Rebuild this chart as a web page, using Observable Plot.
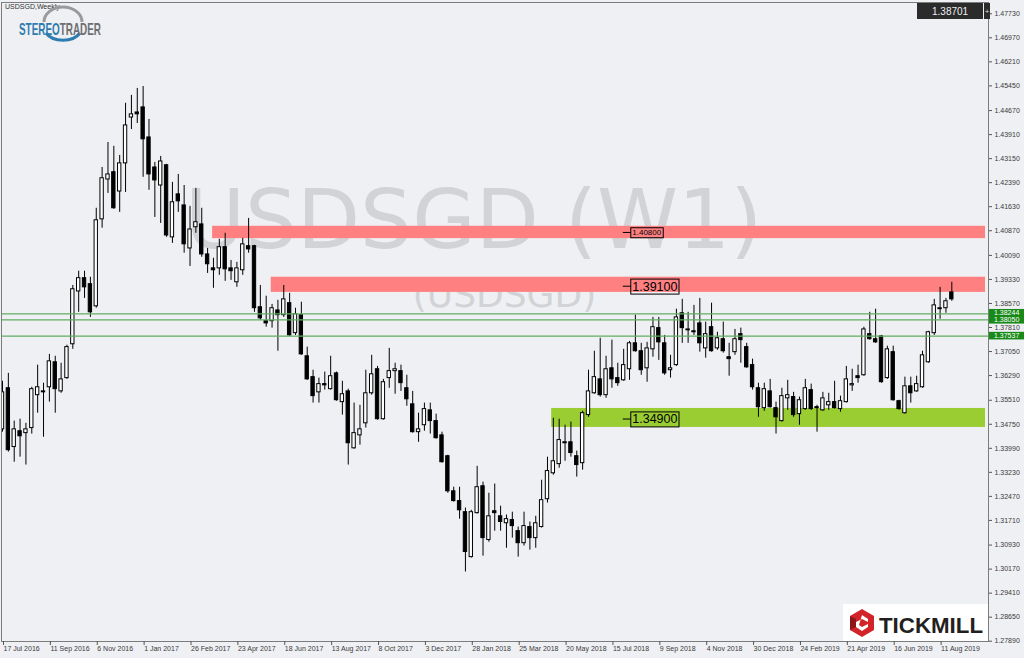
<!DOCTYPE html>
<html><head><meta charset="utf-8">
<script src="https://cdn.jsdelivr.net/npm/d3@7"></script>
<script src="https://cdn.jsdelivr.net/npm/@observablehq/plot@0.6"></script>
<style>
html,body{margin:0;padding:0;background:#eff0f3;}
#chart{width:1024px;height:658px;overflow:hidden;}
</style></head>
<body><div id="chart"></div>
<script>
// ---- data (weekly USDSGD candles, first week starting 17 Jul 2016) ----
const startWeek = "2016-07-17";
const opens = [1.3459,1.3589,1.3403,1.3453,1.3447,1.3463,1.3567,1.3579,1.3592,1.3671,1.3579,1.3621,1.3728,1.3895,1.3937,1.3918,1.3848,1.4123,1.4249,1.4272,1.4211,1.4300,1.4445,1.4461,1.4477,1.4382,1.4287,1.4230,1.4294,1.4066,1.4202,1.4167,1.4031,1.4098,1.4107,1.4012,1.3968,1.3968,1.4035,1.3968,1.3924,1.3962,1.4038,1.4038,1.3845,1.3801,1.3801,1.3835,1.3820,1.3858,1.3763,1.3820,1.3690,1.3624,1.3576,1.3602,1.3586,1.3636,1.3545,1.3579,1.3399,1.3440,1.3478,1.3573,1.3649,1.3491,1.3621,1.3643,1.3643,1.3589,1.3538,1.3450,1.3472,1.3519,1.3485,1.3440,1.3374,1.3263,1.3232,1.3197,1.3055,1.3194,1.3279,1.3109,1.3200,1.3184,1.3162,1.3172,1.3137,1.3099,1.3150,1.3115,1.3150,1.3238,1.3320,1.3349,1.3418,1.3418,1.3374,1.3352,1.3504,1.3573,1.3617,1.3567,1.3652,1.3621,1.3614,1.3649,1.3731,1.3706,1.3652,1.3712,1.3779,1.3731,1.3646,1.3662,1.3826,1.3772,1.3769,1.3794,1.3715,1.3782,1.3715,1.3744,1.3687,1.3703,1.3760,1.3719,1.3662,1.3589,1.3526,1.3579,1.3526,1.3485,1.3557,1.3561,1.3507,1.3523,1.3583,1.3529,1.3519,1.3535,1.3545,1.3523,1.3545,1.3598,1.3627,1.3630,1.3760,1.3744,1.3753,1.3621,1.3703,1.3548,1.3510,1.3595,1.3579,1.3592,1.3671,1.3763,1.3839,1.3842,1.3892];
const highs = [1.3611,1.3636,1.3485,1.3491,1.3478,1.3592,1.3662,1.3605,1.3696,1.3690,1.3668,1.3725,1.3914,1.3959,1.3959,1.3940,1.4158,1.4287,1.4366,1.4354,1.4325,1.4490,1.4515,1.4537,1.4543,1.4439,1.4303,1.4322,1.4297,1.4240,1.4265,1.4230,1.4164,1.4221,1.4158,1.4031,1.4000,1.4060,1.4079,1.3993,1.3987,1.4063,1.4126,1.4041,1.3914,1.3880,1.3854,1.3867,1.3914,1.3889,1.3842,1.3861,1.3719,1.3646,1.3621,1.3640,1.3690,1.3640,1.3611,1.3586,1.3542,1.3535,1.3646,1.3693,1.3658,1.3617,1.3715,1.3668,1.3662,1.3630,1.3579,1.3510,1.3542,1.3542,1.3507,1.3450,1.3377,1.3276,1.3276,1.3210,1.3203,1.3342,1.3292,1.3257,1.3286,1.3216,1.3188,1.3197,1.3150,1.3197,1.3166,1.3184,1.3298,1.3371,1.3494,1.3491,1.3472,1.3482,1.3390,1.3516,1.3646,1.3706,1.3747,1.3690,1.3741,1.3668,1.3712,1.3737,1.3820,1.3731,1.3734,1.3813,1.3813,1.3756,1.3693,1.3839,1.3870,1.3829,1.3851,1.3873,1.3798,1.3858,1.3766,1.3798,1.3731,1.3775,1.3779,1.3731,1.3681,1.3605,1.3605,1.3617,1.3545,1.3589,1.3614,1.3576,1.3561,1.3617,1.3602,1.3535,1.3576,1.3573,1.3611,1.3564,1.3658,1.3649,1.3662,1.3782,1.3829,1.3839,1.3756,1.3722,1.3722,1.3551,1.3624,1.3624,1.3627,1.3706,1.3769,1.3870,1.3908,1.3873,1.3924];
const lows = [1.3450,1.3387,1.3355,1.3371,1.3346,1.3444,1.3510,1.3434,1.3545,1.3510,1.3573,1.3617,1.3712,1.3829,1.3873,1.3813,1.3842,1.4095,1.4205,1.4155,1.4145,1.4208,1.4407,1.4426,1.4256,1.4215,1.4129,1.4110,1.4066,1.4047,1.4145,1.4016,1.3974,1.4079,1.4003,1.3952,1.3905,1.3946,1.3927,1.3930,1.3908,1.3946,1.4016,1.3829,1.3804,1.3782,1.3779,1.3706,1.3813,1.3753,1.3756,1.3693,1.3614,1.3542,1.3542,1.3583,1.3583,1.3548,1.3504,1.3346,1.3396,1.3409,1.3463,1.3567,1.3488,1.3488,1.3589,1.3570,1.3579,1.3532,1.3447,1.3418,1.3453,1.3444,1.3428,1.3352,1.3257,1.3229,1.3175,1.3008,1.3052,1.3191,1.3058,1.3102,1.3137,1.3137,1.3083,1.3115,1.3055,1.3090,1.3077,1.3083,1.3147,1.3226,1.3314,1.3336,1.3358,1.3371,1.3308,1.3330,1.3497,1.3570,1.3561,1.3557,1.3589,1.3595,1.3611,1.3614,1.3703,1.3630,1.3608,1.3687,1.3677,1.3630,1.3621,1.3658,1.3731,1.3731,1.3756,1.3703,1.3684,1.3703,1.3709,1.3700,1.3627,1.3693,1.3668,1.3652,1.3583,1.3497,1.3516,1.3526,1.3444,1.3482,1.3519,1.3497,1.3472,1.3519,1.3519,1.3450,1.3516,1.3519,1.3523,1.3513,1.3542,1.3579,1.3605,1.3627,1.3741,1.3731,1.3605,1.3617,1.3548,1.3519,1.3507,1.3542,1.3576,1.3589,1.3668,1.3756,1.3807,1.3826,1.3864];
const closes = [1.3576,1.3393,1.3459,1.3437,1.3459,1.3586,1.3592,1.3576,1.3674,1.3586,1.3617,1.3719,1.3902,1.3937,1.3908,1.3829,1.4120,1.4253,1.4265,1.4158,1.4300,1.4420,1.4455,1.4455,1.4376,1.4265,1.4246,1.4306,1.4072,1.4177,1.4180,1.4044,1.4091,1.4114,1.4012,1.3981,1.3962,1.4035,1.3965,1.3959,1.3968,1.4044,1.4028,1.3842,1.3810,1.3794,1.3842,1.3820,1.3870,1.3756,1.3823,1.3696,1.3617,1.3564,1.3602,1.3598,1.3627,1.3551,1.3570,1.3415,1.3447,1.3459,1.3573,1.3633,1.3491,1.3608,1.3643,1.3649,1.3605,1.3554,1.3450,1.3459,1.3523,1.3485,1.3431,1.3355,1.3263,1.3232,1.3203,1.3071,1.3197,1.3276,1.3115,1.3184,1.3194,1.3166,1.3175,1.3153,1.3099,1.3153,1.3115,1.3162,1.3235,1.3327,1.3358,1.3425,1.3415,1.3384,1.3346,1.3510,1.3579,1.3624,1.3567,1.3649,1.3617,1.3605,1.3662,1.3731,1.3706,1.3646,1.3715,1.3782,1.3734,1.3636,1.3652,1.3813,1.3779,1.3775,1.3766,1.3731,1.3760,1.3706,1.3747,1.3706,1.3681,1.3744,1.3741,1.3655,1.3592,1.3529,1.3586,1.3529,1.3497,1.3564,1.3567,1.3504,1.3551,1.3589,1.3523,1.3526,1.3557,1.3545,1.3526,1.3548,1.3617,1.3602,1.3621,1.3775,1.3744,1.3734,1.3608,1.3712,1.3551,1.3523,1.3595,1.3573,1.3602,1.3693,1.3766,1.3851,1.3842,1.3864,1.3870];

const yTicks = [1.27890,1.28650,1.29410,1.30170,1.30930,1.31710,1.32470,1.33230,1.33990,1.34750,1.35510,1.36290,1.37050,1.37810,1.38570,1.39330,1.40090,1.40870,1.41630,1.42390,1.43150,1.43910,1.44670,1.45450,1.46210,1.46970,1.47730];
const xTickDates = ["2016-07-17","2016-09-11","2016-11-06","2017-01-01","2017-02-26","2017-04-23","2017-06-18","2017-08-13","2017-10-08","2017-12-03","2018-01-28","2018-03-25","2018-05-20","2018-07-15","2018-09-09","2018-11-04","2018-12-30","2019-02-24","2019-04-21","2019-06-16","2019-08-11"];

const zoneLevels = [1.40800, 1.39100, 1.34900];
const zoneLabels = ["1.40800", "1.39100", "1.34900"];
const zoneLow = [1.4062, 1.3892, 1.3465];
const zoneHigh = [1.4101, 1.3940, 1.3525];
const zoneStart = ["2017-03-25", "2017-06-03", "2018-05-04"];
const zoneColors = ["#ff8080", "#ff8080", "#9acd32"];
const zoneLabelSize = [8, 12.5, 12.5];

const hLines = [1.38244, 1.38050, 1.37537];
const hLineLabels = ["1.38244", "1.38050", "1.37537"];
const lastPrice = "1.38701";
const titleText = "USDSGD,Weekly";
const watermark = "USDSGD (W1)";
const watermarkSub = "(USDSGD)";

// ---- build ----
const DAY = 864e5, WEEK = 7 * DAY;
const t0 = new Date(startWeek + "T00:00:00Z");
const candles = opens.map((o, i) => ({
  date: d3.utcWeek.offset(t0, i), open: o, high: highs[i], low: lows[i], close: closes[i]
}));
const zones = zoneLevels.map((lv, i) => ({
  level: lv, label: zoneLabels[i], lo: zoneLow[i], hi: zoneHigh[i],
  start: new Date(zoneStart[i] + "T00:00:00Z"), color: zoneColors[i], size: zoneLabelSize[i]
}));
const xDomain = [new Date(+t0 - 0.17 * WEEK), new Date(+t0 + 168.26 * WEEK)];
const zoneEnd = new Date(+t0 + 167.75 * WEEK);
const labelAt = new Date(+t0 + 107.3 * WEEK);
const FONT = "'Liberation Sans', Arial, sans-serif";

const chart = Plot.plot({
  width: 1024, height: 658,
  marginTop: 2, marginBottom: 17, marginLeft: 1, marginRight: 36,
  style: {background: "#eff0f3", fontFamily: FONT, fontSize: "7px", color: "#333"},
  x: {type: "utc", domain: xDomain},
  y: {domain: [1.27881, 1.48087]},
  color: {type: "identity"},
  marks: [
    Plot.text([watermark], {text: d => d, frameAnchor: "top-left", dx: 472, dy: 187, textAnchor: "middle",
      fontSize: 82, fontFamily: "'DejaVu Sans', sans-serif", fill: "#d2d3d6"}),
    Plot.text([watermarkSub], {text: d => d, frameAnchor: "top-left", dx: 503, dy: 279, textAnchor: "middle",
      fontSize: 36, fontFamily: "'DejaVu Sans', sans-serif", fill: "#d2d3d6"}),
    Plot.rect(zones, {x1: "start", x2: () => zoneEnd, y1: "lo", y2: "hi", fill: "color"}),
    Plot.ruleX(candles, {x: "date", y1: "low", y2: "high", stroke: "#000", strokeWidth: 1, clip: true}),
    Plot.rect(candles, {
      x1: d => new Date(+d.date - 2 * DAY), x2: d => new Date(+d.date + 2 * DAY),
      y1: "open", y2: "close",
      fill: d => d.close >= d.open ? "#ffffff" : "#000000",
      stroke: "#000", strokeWidth: 1, clip: true
    }),
    Plot.ruleY(hLines, {y: d => d, stroke: "#5fae62", strokeWidth: 1.2}),
    Plot.frame({stroke: "#7c7c7c"}),
    Plot.axisY({anchor: "right", ticks: yTicks, tickFormat: d3.format(".5f"), tickSize: 3, tickPadding: 3, stroke: "#555", fill: "#3a3a3a"}),
    Plot.axisX({anchor: "bottom", ticks: xTickDates.map(s => new Date(s + "T00:00:00Z")), tickFormat: d3.utcFormat("%-d %b %Y"),
      tickSize: 4, tickPadding: 1, textAnchor: "start", dx: 1, stroke: "#555", fill: "#3a3a3a"})
  ]
});
document.getElementById("chart").appendChild(chart);

// ---- decorations positioned with the plot's scales ----
const svg = d3.select(chart);
const xs = chart.scale("x"), ys = chart.scale("y");
const deco = svg.append("g").attr("text-anchor", "start").attr("font-family", FONT);

// zone price labels with boxes
zones.forEach(z => {
  const x = xs.apply(labelAt), y = ys.apply(z.level);
  deco.append("line").attr("x1", x - 8).attr("x2", x).attr("y1", y).attr("y2", y).attr("stroke", "#000").attr("stroke-width", 1);
  const t = deco.append("text").attr("x", x + 1.5).attr("y", y).attr("dy", "0.35em")
    .attr("font-size", z.size).attr("fill", "#000").text(z.label);
  const b = t.node().getBBox();
  deco.insert("rect", "text").attr("x", x).attr("y", b.y - 0.5).attr("width", b.width + 3).attr("height", b.height + 1)
    .attr("fill", "none").attr("stroke", "#000").attr("stroke-width", 1);
});

// green badges on the price axis
const badgeYs = hLines.map(v => ys.apply(v));
const badgeCenters = [badgeYs[0] - 0.5, badgeYs[0] + 6.5, badgeYs[2]];
hLines.forEach((v, i) => {
  const cy = badgeCenters[i];
  deco.append("rect").attr("x", 989).attr("y", cy - 3.8).attr("width", 35).attr("height", 7.6).attr("fill", "#188a18");
  deco.append("text").attr("x", 994).attr("y", cy).attr("dy", "0.35em").attr("font-size", 7)
    .attr("fill", "#ffffff").text(hLineLabels[i]);
});

// title
deco.append("text").attr("x", 5).attr("y", 9).attr("font-size", 7).attr("fill", "#333").text(titleText);

// top-right price box
deco.append("rect").attr("x", 917).attr("y", 3).attr("width", 66).attr("height", 16).attr("fill", "#2b2b2b");
deco.append("text").attr("x", 932).attr("y", 11).attr("dy", "0.35em").attr("font-size", 10)
  .attr("fill", "#f0f0f0").text(lastPrice);
deco.append("rect").attr("x", 984).attr("y", 3).attr("width", 6).attr("height", 16).attr("fill", "#2b2b2b");
deco.append("text").attr("x", 987).attr("y", 11).attr("dy", "0.35em").attr("text-anchor", "middle").attr("font-size", 8)
  .attr("fill", "#ddd").text("+");

// STEREOTRADER logo
const lg = deco.append("g");
lg.append("path").attr("d", "M44,22 A19,15 0 0 1 82,22").attr("fill", "none").attr("stroke", "#9a9a9a").attr("stroke-width", 3);
lg.append("path").attr("d", "M46,33 A19,13 0 0 0 80,33").attr("fill", "none").attr("stroke", "#2e7bb0").attr("stroke-width", 3);
const lt = lg.append("text").attr("x", 19).attr("y", 35).attr("font-size", 17).attr("font-weight", "bold")
  .attr("font-family", "'Liberation Sans Narrow', 'Liberation Sans', Arial, sans-serif")
  .attr("textLength", 82).attr("lengthAdjust", "spacingAndGlyphs");
lt.append("tspan").attr("fill", "#2e7bb0").text("STEREO");
lt.append("tspan").attr("fill", "#6d6e71").text("TRADER");

// TICKMILL logo
const tm = deco.append("g");
tm.append("rect").attr("x", 843).attr("y", 604).attr("width", 145).attr("height", 37).attr("fill", "#ffffff");
tm.append("path").attr("d", "M862,609 L874,616 L874,630 L862,637 L850,630 L850,616 Z").attr("fill", "#d2232a");
tm.append("path").attr("d", "M862,615 L868,619 L868,622 L862,619 L856,622 L856,627 L862,631 L868,627 L868,624 L862,627 L859,625 Z").attr("fill", "#ffffff");
tm.append("path").attr("d", "M850,616 L856,619 L856,627 L850,630 Z").attr("fill", "#8e1418");
tm.append("text").attr("x", 879).attr("y", 633).attr("font-size", 21.5).attr("font-weight", "bold")
  .attr("fill", "#231f20").attr("textLength", 104).attr("lengthAdjust", "spacingAndGlyphs").text("TICKMILL");
</script>
</body></html>
